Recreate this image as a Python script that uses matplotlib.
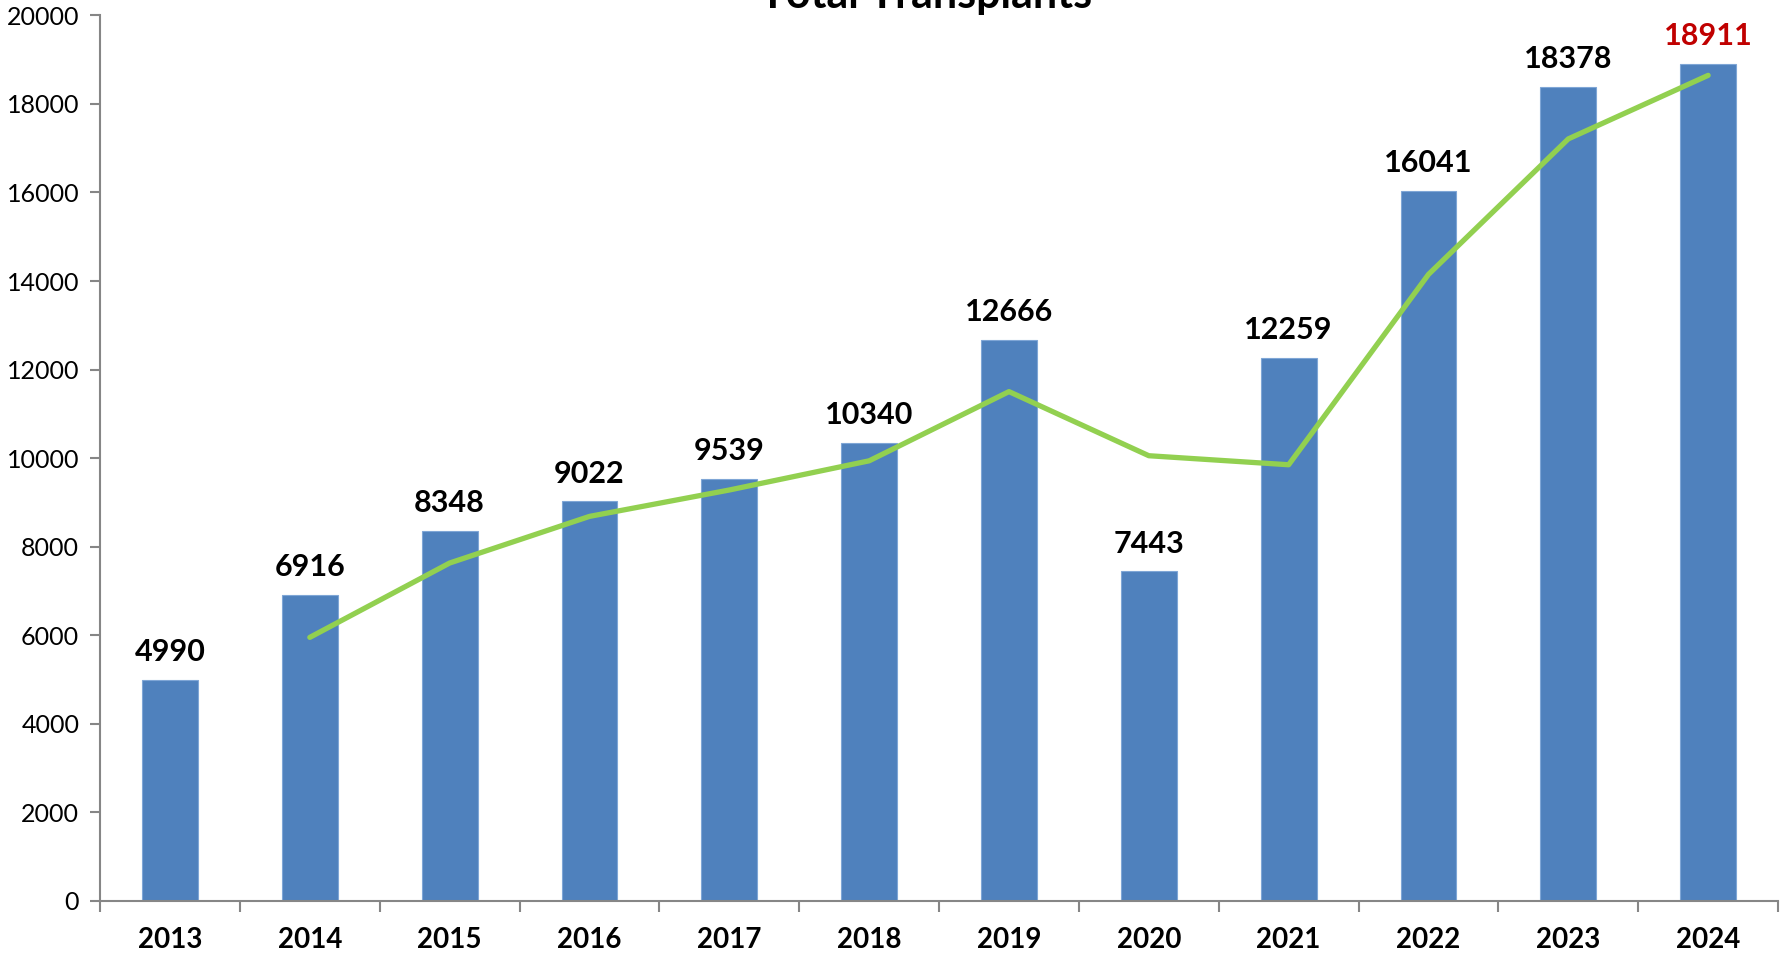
import matplotlib
matplotlib.use("Agg")
import matplotlib.pyplot as plt
import numpy as np

plt.rcParams['font.family'] = ['Lato', 'DejaVu Sans']

# data
years = ['2013', '2014', '2015', '2016', '2017', '2018',
         '2019', '2020', '2021', '2022', '2023', '2024']
totals = [4990, 6916, 8348, 9022, 9539, 10340, 12666, 7443, 12259, 16041, 18378, 18911]
# green trend line, starting at 2014
trend_years = years[1:]
trend = [5953, 7632, 8685, 9281, 9940, 11503, 10055, 9851, 14150, 17210, 18645]

bar_color = '#4F81BD'
line_color = '#92D050'
axis_color = '#868686'

fig = plt.figure(figsize=(17.87, 9.59), dpi=100)
ax = fig.add_axes([0.056, 0.0605, 0.939, 0.9235])

x = np.arange(len(years))
ax.bar(x, totals, width=0.4, color=bar_color, edgecolor='#7FA6D6', linewidth=0.8, zorder=2)
tx = np.arange(1, len(years))
ax.plot(tx, trend, color=line_color, linewidth=3.8, solid_capstyle='round',
        solid_joinstyle='round', zorder=3)

for i, v in enumerate(totals):
    c = '#C00000' if i == len(totals) - 1 else 'black'
    ax.annotate(str(v), (i, v), xytext=(0, 10), textcoords='offset points',
                ha='center', va='bottom', fontsize=22, fontweight='bold', color=c)

ax.set_xlim(-0.5, len(years) - 0.5)
ax.set_ylim(0, 20000)
ax.set_yticks(np.arange(0, 20001, 2000))
ax.tick_params(axis='y', labelsize=18, length=7, width=1.5, color=axis_color, pad=8)
ax.set_xticks(np.arange(-0.5, len(years), 1.0))
ax.set_xticklabels([])
ax.set_xticks(x, minor=True)
ax.set_xticklabels(years, minor=True, fontsize=20, fontweight='bold')
ax.tick_params(axis='x', which='major', length=8, width=1.5, color=axis_color)
ax.tick_params(axis='x', which='minor', length=0, pad=19)

for s in ['top', 'right']:
    ax.spines[s].set_visible(False)
for s in ['left', 'bottom']:
    ax.spines[s].set_color(axis_color)
    ax.spines[s].set_linewidth(1.5)

fig.text(0.518, 1 - 8 / 959, 'Total Transplants', ha='center', va='baseline',
         fontsize=31, fontweight='bold')

fig.savefig('out.png', dpi=100)
